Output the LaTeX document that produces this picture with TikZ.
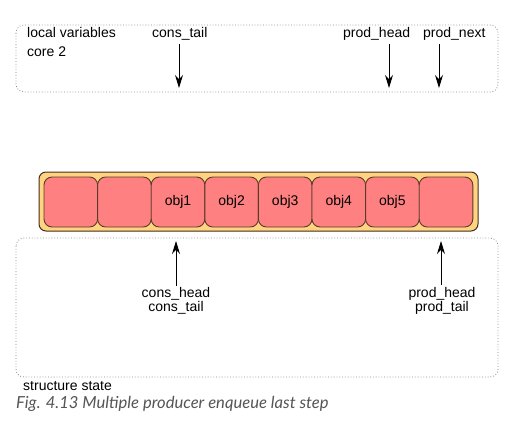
\documentclass[tikz,border=0pt]{standalone}
\usepackage{fontspec}
\setmainfont{Liberation Sans}
\newfontfamily\capfont{Lato}
\usetikzlibrary{arrows.meta}
\definecolor{cellfill}{HTML}{FF8080}
\definecolor{celldraw}{HTML}{5A3A2A}
\definecolor{qfill}{HTML}{FFD480}
\definecolor{boxdraw}{HTML}{888888}
\definecolor{capgray}{HTML}{555555}
\tikzset{
  framebox/.style={draw=boxdraw, dotted, line width=0.8pt, rounded corners=8pt},
  cellbox/.style={draw=celldraw, fill=cellfill, line width=0.9pt, rounded corners=8pt, minimum width=53.6pt, minimum height=50pt, inner sep=0pt, font=\fontsize{14}{16}\selectfont},
  lbl/.style={font=\fontsize{14}{14}\selectfont, inner sep=0pt, align=center},
  ptr/.style={-{Stealth[length=13pt,width=8pt]}, line width=1pt}
}
\begin{document}
\begin{tikzpicture}[x=1pt,y=-1pt]
\useasboundingbox (0,0) rectangle (523,424);
\fill[white] (0,0) rectangle (523,424);
% top frame
\draw[framebox] (16,25) rectangle (498,92);
\node[lbl, anchor=base west] (lv) at (27,37) {local variables};
\node[lbl, anchor=base west] (core) at (27,56) {core 2};
\node[lbl, anchor=base west] (ct) at (152,37) {cons\_tail};
\node[lbl, anchor=base west] (ph) at (343,37) {prod\_head};
\node[lbl, anchor=base west] (pn) at (423,37) {prod\_next};
\coordinate (ctstart) at (179,44);
\coordinate (phstart) at (389,44);
\coordinate (pnstart) at (439,44);
\coordinate (ctend) at (179,88);
\coordinate (phend) at (389,88);
\coordinate (pnend) at (439,88);
\draw[ptr] (ctstart) -- (ctend);
\draw[ptr] (phstart) -- (phend);
\draw[ptr] (pnstart) -- (pnend);
% queue
\draw[draw=celldraw!80!black, fill=qfill, line width=1pt, rounded corners=7pt] (39,172) rectangle (478,231);
\foreach \i/\t in {1/,2/,3/obj1,4/obj2,5/obj3,6/obj4,7/obj5,8/}{
  \node[cellbox] (c\i) at ({44+(\i-0.5)*53.6},202) {\t};
}
% bottom frame
\draw[framebox] (16,238) rectangle (498,377);
\node[lbl, anchor=base] (ch) at (176,311) {cons\_head\\cons\_tail};
\node[lbl, anchor=base] (pt) at (442,311) {prod\_head\\prod\_tail};
\coordinate (chtip) at (176,241);
\coordinate (pttip) at (441,241);
\coordinate (chstart) at (176,286);
\coordinate (ptstart) at (441,285);
\draw[ptr] (chstart) -- (chtip);
\draw[ptr] (ptstart) -- (pttip);
\node[lbl, anchor=base west] (ss) at (23,390) {structure state};
\node[anchor=base west, inner sep=0pt, text=capgray, font=\capfont\itshape\fontsize{16.6}{18}\selectfont] (cap) at (16,408) {Fig. 4.13 Multiple producer enqueue last step};
\end{tikzpicture}
\end{document}
